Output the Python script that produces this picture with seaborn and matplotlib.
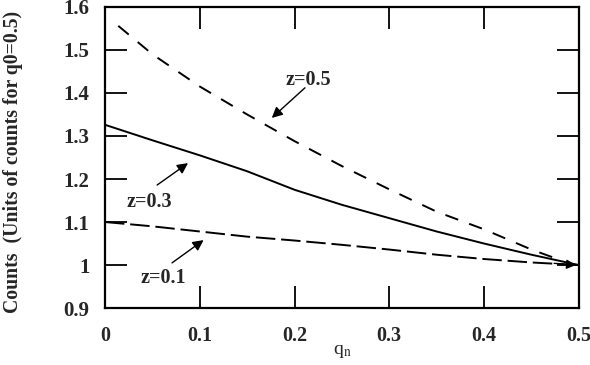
import pandas as pd
import matplotlib
matplotlib.use('Agg')
import matplotlib.pyplot as plt
import seaborn as sns

# curves
q_05 = [0.014, 0.05, 0.10, 0.15, 0.20, 0.25, 0.30, 0.35, 0.40, 0.45, 0.48]
counts_05 = [1.556, 1.490, 1.415, 1.350, 1.288, 1.230, 1.176, 1.124, 1.083, 1.036, 1.012]

q_03 = [0.0, 0.05, 0.10, 0.15, 0.20, 0.25, 0.30, 0.35, 0.40, 0.45, 0.50]
counts_03 = [1.326, 1.290, 1.255, 1.218, 1.175, 1.140, 1.109, 1.078, 1.050, 1.024, 1.000]

q_01 = [0.0, 0.05, 0.10, 0.15, 0.20, 0.25, 0.30, 0.35, 0.40, 0.45, 0.50]
counts_01 = [1.100, 1.090, 1.078, 1.066, 1.057, 1.047, 1.036, 1.024, 1.014, 1.006, 1.000]

x_ticks = [0, 0.1, 0.2, 0.3, 0.4, 0.5]
x_labels = ['0', '0.1', '0.2', '0.3', '0.4', '0.5']
y_ticks = [0.9, 1.0, 1.1, 1.2, 1.3, 1.4, 1.5, 1.6]
y_labels = ['0.9', '1', '1.1', '1.2', '1.3', '1.4', '1.5', '1.6']

df = pd.concat([
    pd.DataFrame({'q': q_05, 'counts': counts_05, 'z': 'z=0.5'}),
    pd.DataFrame({'q': q_03, 'counts': counts_03, 'z': 'z=0.3'}),
    pd.DataFrame({'q': q_01, 'counts': counts_01, 'z': 'z=0.1'}),
])

sns.set_theme(style='ticks')
plt.rcParams['font.family'] = ['Liberation Serif', 'DejaVu Serif']
plt.rcParams['mathtext.fontset'] = 'stix'

fig = plt.figure(figsize=(5.9, 3.65), dpi=100)
ax = fig.add_axes([0.178, 0.156, 0.803, 0.825])

sns.lineplot(data=df, x='q', y='counts', style='z', hue='z',
             palette={'z=0.5': 'black', 'z=0.3': 'black', 'z=0.1': 'black'},
             dashes={'z=0.5': (7, 6), 'z=0.3': '', 'z=0.1': (10, 3)},
             linewidth=1.4, legend=False, ax=ax, sort=False)

ax.set_xlim(0, 0.5)
ax.set_ylim(0.9, 1.6)
ax.set_xticks(x_ticks)
ax.set_xticklabels(x_labels, fontweight='bold', fontsize=14.5)
ax.set_yticks(y_ticks)
ax.set_yticklabels(y_labels, fontweight='bold', fontsize=15)
ax.tick_params(direction='in', length=16, width=1.3, top=True, right=True,
               color='black')
ax.tick_params(axis='x', pad=13)
ax.tick_params(axis='y', pad=11)
for s in ax.spines.values():
    s.set_visible(True)
    s.set_linewidth(1.6)
    s.set_color('black')

ax.set_xlabel(r'q$_\mathrm{n}$', fontsize=14, labelpad=-2)
ax.set_ylabel('Counts  (Units of counts for q0=0.5)', fontsize=14.2,
              fontweight='bold')
ax.yaxis.set_label_coords(-0.174, 0.485)

arrow = dict(arrowstyle='-|>', color='black', lw=1.0, mutation_scale=16,
             shrinkA=0, shrinkB=0)
ax.annotate('', xy=(0.176, 1.342), xytext=(0.211, 1.412), arrowprops=arrow)
ax.text(0.215, 1.430, 'z=0.5', fontsize=14.5, fontweight='bold',
        ha='center', va='center')
ax.annotate('', xy=(0.0876, 1.237), xytext=(0.055, 1.186), arrowprops=arrow)
ax.text(0.047, 1.147, 'z=0.3', fontsize=14.5, fontweight='bold',
        ha='center', va='center')
ax.annotate('', xy=(0.104, 1.058), xytext=(0.0707, 1.005), arrowprops=arrow)
ax.text(0.062, 0.970, 'z=0.1', fontsize=14.5, fontweight='bold',
        ha='center', va='center')
# small arrowhead where the curves meet
ax.annotate('', xy=(0.497, 1.0), xytext=(0.474, 1.004),
            arrowprops=dict(arrowstyle='-|>', color='black', lw=1.0,
                            mutation_scale=14, shrinkA=0, shrinkB=0))

fig.savefig('out.png', dpi=100)
